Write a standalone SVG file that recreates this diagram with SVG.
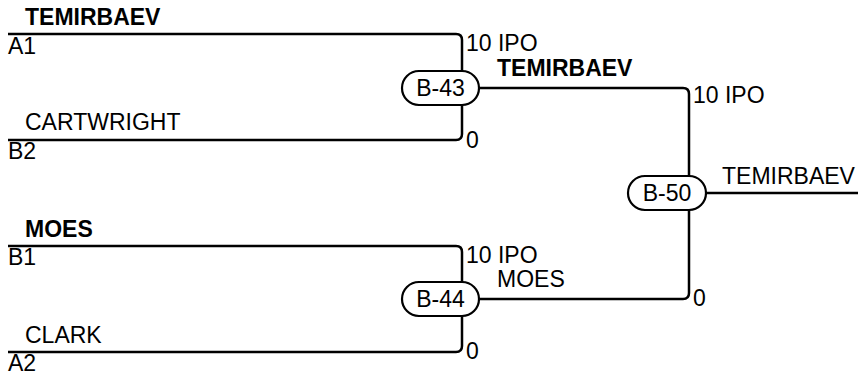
<svg xmlns="http://www.w3.org/2000/svg" width="858" height="375" viewBox="0 0 858 375">
<style>
text{font-family:"Liberation Sans",Arial,sans-serif;font-size:23px;fill:#000}
.b{font-weight:bold}
.ln{fill:none;stroke:#000;stroke-width:2.5}
.pill{fill:#fff;stroke:#000;stroke-width:2.2}
</style>
<rect width="858" height="375" fill="#fff"/>
<g id="connectors">
<path class="ln" d="M8,34 H456 Q462,34 462,40 V71"/>
<path class="ln" d="M8,140 H456 Q462,140 462,134 V105"/>
<path class="ln" d="M8,246 H456 Q462,246 462,252 V282"/>
<path class="ln" d="M8,352 H456 Q462,352 462,346 V316"/>
<path class="ln" d="M479,88 H683 Q689,88 689,94 V176"/>
<path class="ln" d="M479,299 H683 Q689,299 689,293 V210"/>
<path class="ln" d="M706,193 H858"/>
</g>
<g id="labels">
<text x="25" y="25" class="b">TEMIRBAEV</text>
<text x="8" y="54">A1</text>
<text x="25" y="130">CARTWRIGHT</text>
<text x="8" y="159">B2</text>
<text x="25" y="237" class="b">MOES</text>
<text x="8" y="265">B1</text>
<text x="25" y="343">CLARK</text>
<text x="8" y="371">A2</text>
<text x="466" y="51">10 IPO</text>
<text x="466" y="148">0</text>
<text x="497" y="76" class="b">TEMIRBAEV</text>
<text x="466" y="263">10 IPO</text>
<text x="466" y="359">0</text>
<text x="497" y="287">MOES</text>
<text x="693" y="103">10 IPO</text>
<text x="693" y="306">0</text>
<text x="722" y="184">TEMIRBAEV</text>
</g>
<g id="B-43">
<rect class="pill" x="402" y="71" width="77" height="34" rx="17"/>
<text x="440.5" y="96" text-anchor="middle">B-43</text>
</g>
<g id="B-44">
<rect class="pill" x="402" y="282" width="77" height="34" rx="17"/>
<text x="440.5" y="307" text-anchor="middle">B-44</text>
</g>
<g id="B-50">
<rect class="pill" x="628" y="176" width="78" height="34" rx="17"/>
<text x="667" y="201" text-anchor="middle">B-50</text>
</g>
</svg>
